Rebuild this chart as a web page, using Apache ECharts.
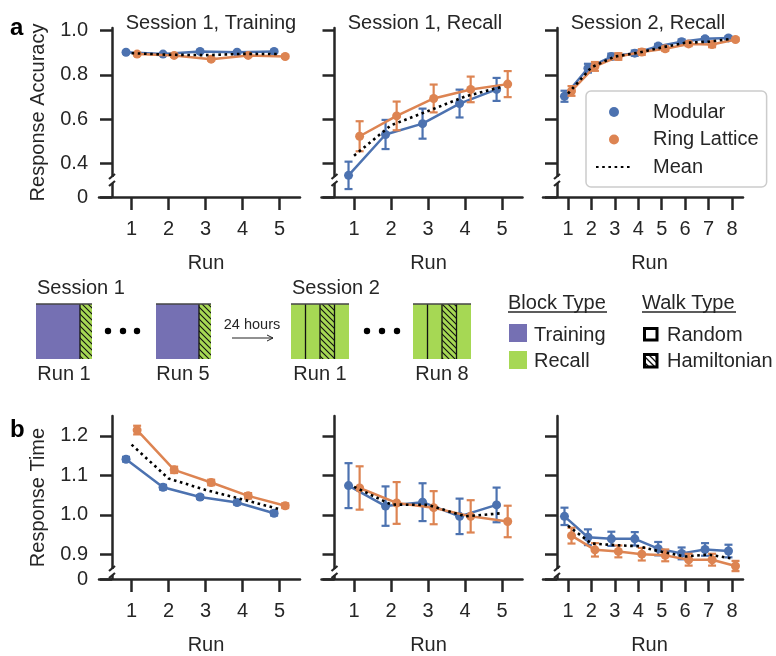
<!DOCTYPE html>
<html><head><meta charset="utf-8">
<script src="https://cdn.jsdelivr.net/npm/echarts@6/dist/echarts.min.js"></script>
<style>html,body{margin:0;padding:0;background:#fff}#chart{width:776px;height:656px}</style>
</head><body><div id="chart"></div>
<script>
// ---------------- data ----------------
const runs5 = [1, 2, 3, 4, 5];
const runs8 = [1, 2, 3, 4, 5, 6, 7, 8];
const panelTitles = ['Session 1, Training', 'Session 1, Recall', 'Session 2, Recall'];
const accTicks = [0.4, 0.6, 0.8, 1.0];
const rtTicks = [0.9, 1.0, 1.1, 1.2];
const accFloor = 0.247;   // shown as "0" below the axis break
const accTop = 1.012;
const rtFloor = 0.837;    // shown as "0" below the axis break
const rtTop = 1.2507;

// Response accuracy
const accS1TrainMod = [0.902, 0.894, 0.906, 0.902, 0.906];
const accS1TrainModErr = [0.005, 0.005, 0.005, 0.005, 0.005];
const accS1TrainRing = [0.894, 0.888, 0.871, 0.888, 0.883];
const accS1TrainRingErr = [0.006, 0.006, 0.006, 0.006, 0.006];
const accS1TrainMean = [0.898, 0.891, 0.889, 0.895, 0.894];

const accS1RecMod = [0.345, 0.530, 0.579, 0.670, 0.734];
const accS1RecModErr = [0.062, 0.066, 0.068, 0.063, 0.052];
const accS1RecRing = [0.522, 0.614, 0.693, 0.734, 0.758];
const accS1RecRingErr = [0.068, 0.065, 0.063, 0.058, 0.059];
const accS1RecMean = [0.434, 0.572, 0.636, 0.702, 0.746];

const accS2RecMod = [0.703, 0.830, 0.883, 0.898, 0.930, 0.950, 0.963, 0.967];
const accS2RecModErr = [0.025, 0.020, 0.013, 0.012, 0.010, 0.010, 0.008, 0.007];
const accS2RecRing = [0.727, 0.838, 0.883, 0.903, 0.918, 0.940, 0.937, 0.960];
const accS2RecRingErr = [0.022, 0.020, 0.015, 0.013, 0.010, 0.010, 0.012, 0.006];
const accS2RecMean = [0.715, 0.834, 0.883, 0.900, 0.924, 0.945, 0.950, 0.963];

// Response time
const rtS1TrainMod = [1.141, 1.070, 1.045, 1.031, 1.004];
const rtS1TrainModErr = [0.006, 0.006, 0.005, 0.005, 0.006];
const rtS1TrainRing = [1.215, 1.114, 1.082, 1.048, 1.023];
const rtS1TrainRingErr = [0.011, 0.008, 0.007, 0.007, 0.006];
const rtS1TrainMean = [1.178, 1.092, 1.063, 1.039, 1.014];

const rtS1RecMod = [1.074, 1.022, 1.032, 0.996, 1.025];
const rtS1RecModErr = [0.057, 0.050, 0.048, 0.045, 0.044];
const rtS1RecRing = [1.068, 1.030, 1.018, 0.996, 0.983];
const rtS1RecRingErr = [0.055, 0.053, 0.042, 0.041, 0.040];
const rtS1RecMean = [1.071, 1.026, 1.025, 0.996, 1.004];

const rtS2RecMod = [0.996, 0.943, 0.939, 0.939, 0.914, 0.902, 0.912, 0.908];
const rtS2RecModErr = [0.022, 0.020, 0.018, 0.017, 0.017, 0.015, 0.016, 0.016];
const rtS2RecRing = [0.947, 0.911, 0.907, 0.900, 0.897, 0.886, 0.886, 0.870];
const rtS2RecRingErr = [0.020, 0.017, 0.015, 0.016, 0.015, 0.015, 0.015, 0.013];
const rtS2RecMean = [0.972, 0.927, 0.923, 0.920, 0.906, 0.894, 0.899, 0.889];

// ---------------- style ----------------
const FONT = '"Liberation Sans", Arial, Helvetica, sans-serif';
const INK = '#262626';
const BLUE = '#4c72b0', ORANGE = '#dd8452';
const PURPLE = '#7570b3', GREEN = '#a6d854';
const FS = 20;

const plots = [
  {left: 99, top: 28, width: 201, runs: runs5, xr: [0.12, 5.55], yoff: -13, kind: 'acc', first: true,
   mod: accS1TrainMod, modErr: accS1TrainModErr, ring: accS1TrainRing, ringErr: accS1TrainRingErr, mean: accS1TrainMean},
  {left: 321.5, top: 28, width: 201, runs: runs5, xr: [0.12, 5.55], yoff: -13, kind: 'acc',
   mod: accS1RecMod, modErr: accS1RecModErr, ring: accS1RecRing, ringErr: accS1RecRingErr, mean: accS1RecMean},
  {left: 543, top: 28, width: 200, runs: runs8, xr: [-0.067, 8.47], yoff: -14, kind: 'acc',
   mod: accS2RecMod, modErr: accS2RecModErr, ring: accS2RecRing, ringErr: accS2RecRingErr, mean: accS2RecMean},
  {left: 99, top: 416, width: 201, runs: runs5, xr: [0.12, 5.55], yoff: -13, kind: 'rt', first: true,
   mod: rtS1TrainMod, modErr: rtS1TrainModErr, ring: rtS1TrainRing, ringErr: rtS1TrainRingErr, mean: rtS1TrainMean},
  {left: 321.5, top: 416, width: 201, runs: runs5, xr: [0.12, 5.55], yoff: -13, kind: 'rt',
   mod: rtS1RecMod, modErr: rtS1RecModErr, ring: rtS1RecRing, ringErr: rtS1RecRingErr, mean: rtS1RecMean},
  {left: 543, top: 416, width: 200, runs: runs8, xr: [-0.067, 8.47], yoff: -14, kind: 'rt',
   mod: rtS2RecMod, modErr: rtS2RecModErr, ring: rtS2RecRing, ringErr: rtS2RecRingErr, mean: rtS2RecMean}
];

const grids = [], xAxes = [], yAxes = [], series = [];

function errSeries(gi, xs, ys, errs, color, name, z) {
  return {
    type: 'custom', name, xAxisIndex: gi, yAxisIndex: gi, z,
    data: xs.map((x, i) => [x, ys[i] - errs[i], ys[i] + errs[i]]),
    encode: {x: 0, y: [1, 2]},
    renderItem(params, api) {
      const x = api.value(0);
      const lo = api.coord([x, api.value(1)]);
      const hi = api.coord([x, api.value(2)]);
      const cw = 4;
      const st = {stroke: color, lineWidth: 2.2};
      return {type: 'group', children: [
        {type: 'line', shape: {x1: lo[0], y1: lo[1], x2: hi[0], y2: hi[1]}, style: st},
        {type: 'line', shape: {x1: lo[0] - cw, y1: lo[1], x2: lo[0] + cw, y2: lo[1]}, style: st},
        {type: 'line', shape: {x1: hi[0] - cw, y1: hi[1], x2: hi[0] + cw, y2: hi[1]}, style: st}
      ]};
    }
  };
}

plots.forEach((p, gi) => {
  const floor = p.kind === 'acc' ? accFloor : rtFloor;
  const top = p.kind === 'acc' ? accTop : rtTop;
  const ticks = p.kind === 'acc' ? accTicks : rtTicks;
  const yvals = [floor].concat(ticks);
  grids.push({left: p.left, top: p.top, width: p.width, height: 169});
  const lbl = {fontSize: FS, color: INK, fontFamily: FONT};
  xAxes.push({
    gridIndex: gi, type: 'value', min: p.xr[0], max: p.xr[1],
    axisLine: {show: true, onZero: false, lineStyle: {color: INK, width: 2.5}},
    axisTick: {show: true, length: 13, lineStyle: {color: INK, width: 2.5}, customValues: p.runs},
    axisLabel: Object.assign({show: true, margin: 22, customValues: p.runs}, lbl),
    splitLine: {show: false},
    name: 'Run', nameLocation: 'middle', nameGap: 56,
    nameTextStyle: Object.assign({padding: [0, 0, 0, 13]}, lbl)
  });
  yAxes.push({
    gridIndex: gi, type: 'value', min: floor, max: top, offset: p.yoff, position: 'left',
    axisLine: {show: true, onZero: false, lineStyle: {color: INK, width: 2.5}},
    axisTick: {show: true, length: 12, lineStyle: {color: INK, width: 2.5}, customValues: yvals},
    axisLabel: Object.assign({show: !!p.first, margin: 24, customValues: yvals,
      formatter: v => (Math.abs(v - floor) < 1e-6 ? '0' : v.toFixed(1))}, lbl),
    splitLine: {show: false},
    name: p.first ? (p.kind === 'acc' ? 'Response Accuracy' : 'Response Time') : '',
    nameLocation: 'middle', nameGap: 64, nameTextStyle: lbl
  });
  const dx = 0.15;
  const mx = p.runs.map(r => r - dx);
  const rx = p.runs.map(r => r + dx);
  series.push(errSeries(gi, mx, p.mod, p.modErr, BLUE, 'Modular SEM', 2));
  series.push({type: 'line', name: 'Modular', xAxisIndex: gi, yAxisIndex: gi, z: 3,
    data: mx.map((x, i) => [x, p.mod[i]]), symbol: 'circle', symbolSize: 9,
    lineStyle: {color: BLUE, width: 2.5}, itemStyle: {color: BLUE}});
  series.push(errSeries(gi, rx, p.ring, p.ringErr, ORANGE, 'Ring Lattice SEM', 4));
  series.push({type: 'line', name: 'Ring Lattice', xAxisIndex: gi, yAxisIndex: gi, z: 5,
    data: rx.map((x, i) => [x, p.ring[i]]), symbol: 'circle', symbolSize: 9,
    lineStyle: {color: ORANGE, width: 2.5}, itemStyle: {color: ORANGE}});
  series.push({type: 'line', name: 'Mean', xAxisIndex: gi, yAxisIndex: gi, z: 6,
    data: p.runs.map((x, i) => [x, p.mean[i]]), symbol: 'none',
    lineStyle: {color: '#000', width: 2.6, type: [2.6, 3.6]}, itemStyle: {color: '#000'}});
});

// ---------------- graphics (titles, labels, schematic) ----------------
const G = [];
function txt(x, y, text, opts) {
  G.push({type: 'text', x, y, silent: true, z: 10,
    style: Object.assign({text, fill: INK, fontSize: FS, fontFamily: FONT, align: 'left', verticalAlign: 'middle'}, opts || {})});
}
function rect(x, y, w, h, style) {
  G.push({type: 'rect', silent: true, z: 10, shape: {x, y, width: w, height: h}, style});
}
function seg(x1, y1, x2, y2, stroke, lw) {
  G.push({type: 'line', silent: true, z: 11, shape: {x1, y1, x2, y2}, style: {stroke, lineWidth: lw}});
}
function makeHatch(bg, fg, s, lw) {
  const c = document.createElement('canvas');
  c.width = s; c.height = s;
  const g = c.getContext('2d');
  g.fillStyle = bg; g.fillRect(0, 0, s, s);
  g.strokeStyle = fg; g.lineWidth = lw;
  g.beginPath();
  g.moveTo(-1, -1); g.lineTo(s + 1, s + 1);
  g.moveTo(-1, s - 1); g.lineTo(1, s + 1);
  g.moveTo(s - 1, -1); g.lineTo(s + 1, 1);
  g.stroke();
  return {image: c, repeat: 'repeat'};
}
const hatchGreen = makeHatch(GREEN, '#111', 6, 1.1);
const hatchWhite = makeHatch('#ffffff', '#111', 6, 1.3);

// panel titles
txt(211, 23, panelTitles[0], {align: 'center'});
txt(425, 23, panelTitles[1], {align: 'center'});
txt(648, 23, panelTitles[2], {align: 'center'});
// panel letters
txt(10, 28, 'a', {fontWeight: 'bold', fontSize: 24, fill: '#000'});
txt(10, 430, 'b', {fontWeight: 'bold', fontSize: 24, fill: '#000'});

// axis break marks
function breakMark(x, y) {
  rect(x - 4, y - 3, 8, 6, {fill: '#fff'});
  seg(x - 3, y - 1, x + 3, y - 6, INK, 2.2);
  seg(x - 3, y + 6, x + 3, y + 1, INK, 2.2);
}
[112, 334.5, 557].forEach(x => { breakMark(x, 180); breakMark(x, 572); });

// schematic: session 1 blocks
function trainBlock(x0, xh, x1) {
  rect(x0, 304, xh - x0, 55, {fill: PURPLE});
  rect(xh, 304, x1 - xh, 55, {fill: hatchGreen});
  seg(xh, 304, xh, 359, '#111', 1.3);
  seg(x0, 304, x1, 304, '#444', 1.6);
}
function recallBlock(x0, x1) {
  const q = (x1 - x0) / 4;
  rect(x0, 304, x1 - x0, 55, {fill: GREEN});
  rect(x0 + 2 * q, 304, q, 55, {fill: hatchGreen});
  for (let k = 1; k <= 3; k++) seg(x0 + k * q, 304, x0 + k * q, 359, '#111', 1.3);
  seg(x0, 304, x1, 304, '#444', 1.6);
}
function dots(xs) {
  xs.forEach(x => G.push({type: 'circle', silent: true, z: 10, shape: {cx: x, cy: 331, r: 3.2}, style: {fill: '#000'}}));
}
txt(37, 288, 'Session 1');
trainBlock(36, 80, 92);
dots([108, 123, 137]);
trainBlock(156, 199, 211);
txt(64, 374, 'Run 1', {align: 'center'});
txt(183, 374, 'Run 5', {align: 'center'});
txt(252, 325, '24 hours', {align: 'center', fontSize: 14.5});
seg(232, 338, 273, 338, '#222', 1);
seg(267, 335, 273, 338, '#222', 1);
seg(267, 341, 273, 338, '#222', 1);
txt(292, 288, 'Session 2');
recallBlock(291, 349);
dots([367, 382, 397]);
recallBlock(413, 471);
txt(320, 374, 'Run 1', {align: 'center'});
txt(442, 374, 'Run 8', {align: 'center'});

// schematic legends
txt(508, 303.5, 'Block Type');
seg(508, 312, 607, 312, INK, 1.5);
rect(509, 324, 18, 18, {fill: PURPLE});
txt(534, 335, 'Training');
rect(509, 351, 18, 18, {fill: GREEN});
txt(534, 361, 'Recall');
txt(642, 303.5, 'Walk Type');
seg(642, 312, 736, 312, INK, 1.5);
rect(644.5, 328.5, 12.5, 11.5, {fill: '#fff', stroke: '#000', lineWidth: 3});
txt(667, 335, 'Random');
rect(644.5, 354.5, 12.5, 12.5, {fill: hatchWhite, stroke: '#000', lineWidth: 3});
txt(667, 361, 'Hamiltonian');

const option = {
  animation: false,
  backgroundColor: '#fff',
  textStyle: {fontFamily: FONT},
  grid: grids,
  xAxis: xAxes,
  yAxis: yAxes,
  series,
  legend: {
    orient: 'vertical', left: 586, top: 91,
    padding: [11, 8, 10, 9], itemGap: 7.5, itemWidth: 36, itemHeight: 10,
    backgroundColor: 'rgba(255,255,255,0.85)', borderColor: '#cccccc', borderWidth: 1.5, borderRadius: 5,
    textStyle: {fontSize: FS, color: INK, fontFamily: FONT, padding: [0, 0, 0, 16]},
    selectedMode: false,
    data: [{name: 'Modular', icon: 'circle'}, {name: 'Ring Lattice', icon: 'circle'},
           {name: 'Mean', itemStyle: {opacity: 0}}]
  },
  graphic: G
};
const chart = echarts.init(document.getElementById('chart'), null, {renderer: 'canvas'});
chart.setOption(option);
</script></body></html>
